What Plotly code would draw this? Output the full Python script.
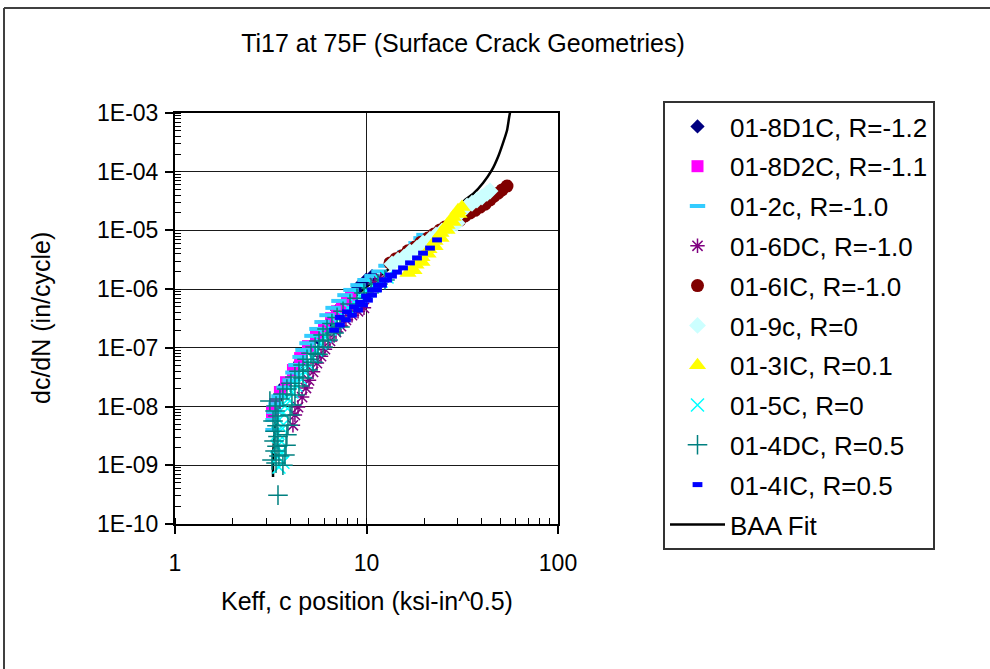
import plotly.graph_objects as go

# ---------------- data ----------------
k_8d1c = [3.75, 4.50, 5.58, 6.45, 7.02, 7.54, 8.10, 8.71, 9.25, 9.94, 10.69]
y_8d1c = [2.3e-8, 5.7e-8, 1.47e-7, 2.75e-7, 4.4e-7, 5.4e-7, 7.3e-7, 9.3e-7, 1.17e-6, 1.43e-6, 1.67e-6]

k_8d2c = [3.21, 3.33, 3.53, 3.80, 4.13, 4.50, 4.95, 5.45, 6.00, 6.53, 7.02, 7.45, 7.91, 8.30]
y_8d2c = [8.1e-9, 1.1e-8, 1.77e-8, 2.6e-8, 4.2e-8, 6.7e-8, 1.07e-7, 1.65e-7, 2.35e-7, 3.2e-7, 4.2e-7, 5.2e-7, 6.5e-7, 7.6e-7]

k_2c = [3.25, 3.25, 3.29, 3.37, 3.49, 3.71, 3.99, 4.13, 4.28, 4.50, 4.66, 4.89, 5.19, 5.51, 5.86, 6.22,
        6.69, 7.18, 7.72, 8.30, 9.03, 9.82, 10.69, 11.62, 12.64, 13.59, 14.79, 15.89, 17.07, 18.14, 19.26, 19.96]
y_2c = [4.0e-9, 5.9e-9, 8.1e-9, 1.1e-8, 1.5e-8, 2.1e-8, 2.8e-8, 3.8e-8, 5.1e-8, 7.0e-8, 9.2e-8, 1.2e-7,
        1.6e-7, 2.1e-7, 2.75e-7, 3.6e-7, 4.8e-7, 6.3e-7, 7.9e-7, 9.7e-7, 1.17e-6, 1.43e-6, 1.67e-6, 2.0e-6,
        2.5e-6, 3.0e-6, 3.5e-6, 4.3e-6, 5.0e-6, 6.1e-6, 7.4e-6, 8.4e-6]

k_6dc = [4.13, 4.23, 4.39, 4.61, 4.83, 5.01, 5.26, 5.51, 5.79, 6.07, 6.45, 6.93, 7.36, 7.81, 8.40, 9.03,
         9.70, 11.07, 11.90]
y_6dc = [4.8e-9, 7.2e-9, 9.8e-9, 1.45e-8, 2.07e-8, 2.8e-8, 3.9e-8, 5.5e-8, 7.2e-8, 9.5e-8, 1.31e-7,
         1.86e-7, 2.35e-7, 3.0e-7, 3.6e-7, 4.2e-7, 4.8e-7, 1.27e-6, 1.49e-6]

k_6ic = [13.27, 14.26, 15.32, 16.47, 17.92, 19.26, 20.95, 22.52, 24.21, 25.70, 27.31, 28.99, 30.78, 32.68,
         34.73, 36.87, 39.15, 41.59, 44.16, 46.34, 48.61, 51.02, 54.16]
y_6ic = [2.8e-6, 3.3e-6, 3.7e-6, 4.5e-6, 5.2e-6, 6.3e-6, 7.4e-6, 8.7e-6, 1.02e-5, 1.14e-5, 1.24e-5, 1.39e-5,
         1.5e-5, 1.76e-5, 1.98e-5, 2.2e-5, 2.5e-5, 2.8e-5, 3.3e-5, 3.85e-5, 4.3e-5, 4.9e-5, 5.7e-5]

k_9c = [13.59, 14.61, 15.70, 16.87, 18.35, 19.73, 21.46, 23.07, 24.79, 26.33, 27.96, 29.70,
        30.41, 31.52, 33.50, 35.57, 37.77, 40.12, 42.60, 44.16]
y_9c = [2.68e-6, 3.1e-6, 3.5e-6, 4.3e-6, 5.0e-6, 6.1e-6, 7.1e-6, 8.4e-6, 9.8e-6, 1.1e-5, 1.19e-5, 1.34e-5,
        1.9e-5, 2.2e-5, 2.6e-5, 2.9e-5, 3.3e-5, 3.7e-5, 4.3e-5, 4.7e-5]

k_3ic = [16.47, 17.70, 18.14, 19.49, 19.49, 20.95, 21.20, 22.79, 22.79, 24.49, 24.49, 26.33, 26.33, 28.30,
         28.30, 30.41, 30.06, 31.52]
y_3ic = [1.88e-6, 2.1e-6, 2.6e-6, 2.9e-6, 3.5e-6, 4.0e-6, 4.8e-6, 5.4e-6, 6.6e-6, 7.4e-6, 9.0e-6, 1.02e-5,
         1.24e-5, 1.39e-5, 1.69e-5, 1.9e-5, 2.2e-5, 2.5e-5]

k_5c = [3.49, 3.66, 3.45, 3.58, 3.41, 3.53, 3.45, 3.58, 3.49, 3.66, 3.75, 3.89, 4.08, 4.28, 4.50, 4.72,
        4.95, 5.19, 5.45, 5.72, 6.07, 6.45, 6.93, 7.45, 8.00, 8.61, 9.25, 10.06, 10.94, 11.90, 12.80]
y_5c = [9.3e-10, 1.13e-9, 1.38e-9, 1.68e-9, 2.1e-9, 2.7e-9, 3.5e-9, 4.5e-9, 5.9e-9, 7.7e-9, 1.02e-8,
        1.34e-8, 1.77e-8, 2.3e-8, 3.06e-8, 4.0e-8, 5.3e-8, 7.0e-8, 9.2e-8, 1.21e-7, 1.59e-7, 2.1e-7,
        2.75e-7, 3.6e-7, 4.8e-7, 6.0e-7, 7.6e-7, 9.3e-7, 1.13e-6, 1.37e-6, 1.61e-6]

k_4dc = [3.45, 3.37, 3.21, 3.49, 3.33, 3.41, 3.29, 3.45, 3.33, 3.41, 3.25, 3.45, 3.33, 3.13, 3.37, 3.53,
         3.66, 3.84, 4.03, 4.23, 4.44, 4.66, 4.89, 5.13, 5.39, 5.65, 5.93, 6.22, 6.60, 7.02, 7.54, 8.20,
         8.92, 9.70, 10.56, 11.48, 12.49,
         3.66, 3.75, 3.80, 3.84, 3.89, 3.99, 4.08, 4.23, 4.44, 4.66, 4.95, 5.26, 5.58, 5.93, 6.30, 6.77, 7.27]
y_4dc = [3.1e-10, 1.09e-9, 1.23e-9, 1.44e-9, 1.75e-9, 2.1e-9, 2.6e-9, 3.1e-9, 3.8e-9, 4.7e-9, 5.7e-9,
         6.9e-9, 8.4e-9, 1.24e-8, 1.02e-8, 1.34e-8, 1.63e-8, 1.99e-8, 2.5e-8, 3.2e-8, 4.0e-8, 5.1e-8,
         6.4e-8, 8.1e-8, 1.03e-7, 1.31e-7, 1.65e-7, 2.1e-7, 2.6e-7, 3.3e-7, 4.2e-7, 5.6e-7, 7.0e-7,
         8.6e-7, 1.04e-6, 1.22e-6, 1.43e-6,
         1.0e-9, 1.5e-9, 2.2e-9, 3.3e-9, 4.8e-9, 7.2e-9, 1.06e-8, 1.57e-8, 2.23e-8, 3.06e-8, 4.2e-8,
         5.7e-8, 7.8e-8, 1.03e-7, 1.36e-7, 1.79e-7, 2.26e-7]

k_4ic = [6.77, 7.27, 7.81, 8.40, 9.03, 9.59, 10.18, 10.69, 11.35, 12.05, 12.80, 13.59, 14.43, 15.51,
         16.87, 18.35, 19.73, 21.46, 23.35,
         7.27, 7.91, 8.61, 9.25, 9.94, 10.69, 11.48, 12.34, 13.27]
y_4ic = [2.0e-7, 2.45e-7, 3.0e-7, 3.6e-7, 4.4e-7, 5.4e-7, 6.5e-7, 7.9e-7, 9.7e-7, 1.17e-6, 1.43e-6,
         1.67e-6, 1.95e-6, 2.3e-6, 2.8e-6, 3.4e-6, 4.1e-6, 5.0e-6, 6.9e-6,
         3.3e-7, 4.1e-7, 5.0e-7, 6.0e-7, 7.6e-7, 9.7e-7, 1.17e-6, 1.43e-6, 1.74e-6]

k_fit = [3.25, 3.25, 3.29, 3.37, 3.62, 4.13, 5.07, 6.85, 9.25, 13.27, 19.03, 25.70, 32.68, 36.0, 40.6,
         45.2, 48.6, 51.6, 54.2, 55.5, 56.8]
y_fit = [6.3e-10, 1.23e-9, 2.7e-9, 5.9e-9, 1.57e-8, 4.2e-8, 1.12e-7, 3.6e-7, 8.9e-7, 2.3e-6, 5.6e-6,
         1.24e-5, 3.3e-5, 4.17e-5, 6.4e-5, 1.07e-4, 1.78e-4, 3.08e-4, 5.1e-4, 8.2e-4, 1.26e-3]

y_tickvals = [1e-10, 1e-9, 1e-8, 1e-7, 1e-6, 1e-5, 1e-4, 1e-3]
y_ticktext = ["1E-10", "1E-09", "1E-08", "1E-07", "1E-06", "1E-05", "1E-04", "1E-03"]
x_tickvals = [1, 10, 100]
x_ticktext = ["1", "10", "100"]

# ---------------- figure ----------------
W, H = 990, 669
L, R, T, B = 175, 432, 113, 145
PW, PH = W - L - R, H - T - B
FONT = "Arial, 'Liberation Sans', sans-serif"


def px_x(px):
    return (px - L) / PW


def px_y(py):
    return (H - B - py) / PH


fig = go.Figure()

# BAA fit drawn first (underneath the data), listed last in the legend
fig.add_trace(go.Scatter(x=k_fit, y=y_fit, mode="lines", name="BAA Fit",
                         line=dict(color="black", width=2.5, shape="spline", smoothing=0.5),
                         legendrank=1100, legendgroup="fit"))

series = [
    ("01-8D1C, R=-1.2", k_8d1c, y_8d1c, dict(symbol="diamond", size=11, color="#000080")),
    ("01-8D2C, R=-1.1", k_8d2c, y_8d2c, dict(symbol="square", size=12, color="#FF00FF")),
    ("01-2c, R=-1.0", k_2c, y_2c, dict(symbol="line-ew", size=11, color="#33CCFF",
                                        line=dict(color="#33CCFF", width=4))),
    ("01-6DC, R=-1.0", k_6dc, y_6dc, dict(symbol="asterisk-open", size=12, color="#800080",
                                          line=dict(color="#800080", width=1.5))),
    ("01-6IC, R=-1.0", k_6ic, y_6ic, dict(symbol="circle", size=13, color="#800000")),
    ("01-9c, R=0", k_9c, y_9c, dict(symbol="diamond", size=13, color="#CCFFFF")),
    ("01-3IC, R=0.1", k_3ic, y_3ic, dict(symbol="triangle-up", size=15, color="#FFFF00")),
    ("01-5C, R=0", k_5c, y_5c, dict(symbol="x-thin-open", size=13, color="#00FFFF",
                                    line=dict(color="#00FFFF", width=1.5))),
    ("01-4DC, R=0.5", k_4dc, y_4dc, dict(symbol="cross-thin-open", size=14, color="#008080",
                                         line=dict(color="#008080", width=1.5))),
    ("01-4IC, R=0.5", k_4ic, y_4ic, dict(symbol="line-ew", size=7, color="#0000FF",
                                         line=dict(color="#0000FF", width=5))),
]
for i, (name, xs, ys, mk) in enumerate(series):
    fig.add_trace(go.Scatter(x=xs, y=ys, mode="markers", name=name, marker=mk,
                             legendrank=1000 + i, legendgroup=f"g{i}"))

axis_common = dict(
    type="log", showline=True, linecolor="black", linewidth=2, mirror=True,
    showgrid=True, gridcolor="#1a1a1a", gridwidth=1,
    ticks="outside", ticklen=8, tickwidth=1.5, tickcolor="black",
    tickfont=dict(family=FONT, size=23, color="black"),
    minor=dict(ticks="inside", ticklen=6, tickwidth=1, tickcolor="black", dtick="D1", showgrid=False),
    zeroline=False,
)

fig.update_layout(
    width=W, height=H,
    margin=dict(l=L, r=R, t=T, b=B, autoexpand=False),
    paper_bgcolor="white", plot_bgcolor="white",
    font=dict(family=FONT, color="black"),
    title=dict(text="Ti17 at 75F (Surface Crack Geometries)", x=463 / W, y=1 - 43 / H,
               xref="container", yref="container", xanchor="center", yanchor="middle",
               font=dict(family=FONT, size=25, color="black")),
    xaxis=dict(axis_common, range=[0, 2], tickmode="array", tickvals=x_tickvals, ticktext=x_ticktext,
               ticklabelstandoff=9),
    yaxis=dict(axis_common, range=[-10, -3], tickmode="array", tickvals=y_tickvals, ticktext=y_ticktext,
               ticklabelstandoff=2),
    legend=dict(x=px_x(663), y=px_y(101), xanchor="left", yanchor="top",
                bgcolor="white", bordercolor="#333333", borderwidth=2,
                font=dict(family=FONT, size=26, color="black"),
                tracegroupgap=3, itemwidth=55, maxheight=600),
    showlegend=True,
    annotations=[
        dict(text="Keff, c position (ksi-in^0.5)", xref="paper", yref="paper",
             x=px_x(367), y=px_y(601), xanchor="center", yanchor="middle", showarrow=False,
             font=dict(family=FONT, size=25, color="black")),
        dict(text="dc/dN (in/cycle)", xref="paper", yref="paper", textangle=-90,
             x=px_x(41), y=px_y(318), xanchor="center", yanchor="middle", showarrow=False,
             font=dict(family=FONT, size=25, color="black")),
    ],
    shapes=[
        dict(type="line", xref="paper", yref="paper", x0=px_x(4), x1=px_x(4), y0=px_y(8), y1=px_y(680),
             line=dict(color="#404040", width=2)),
        dict(type="line", xref="paper", yref="paper", x0=px_x(4), x1=px_x(1000), y0=px_y(8), y1=px_y(8),
             line=dict(color="#404040", width=2)),
    ],
)

fig.write_html("out.html")
